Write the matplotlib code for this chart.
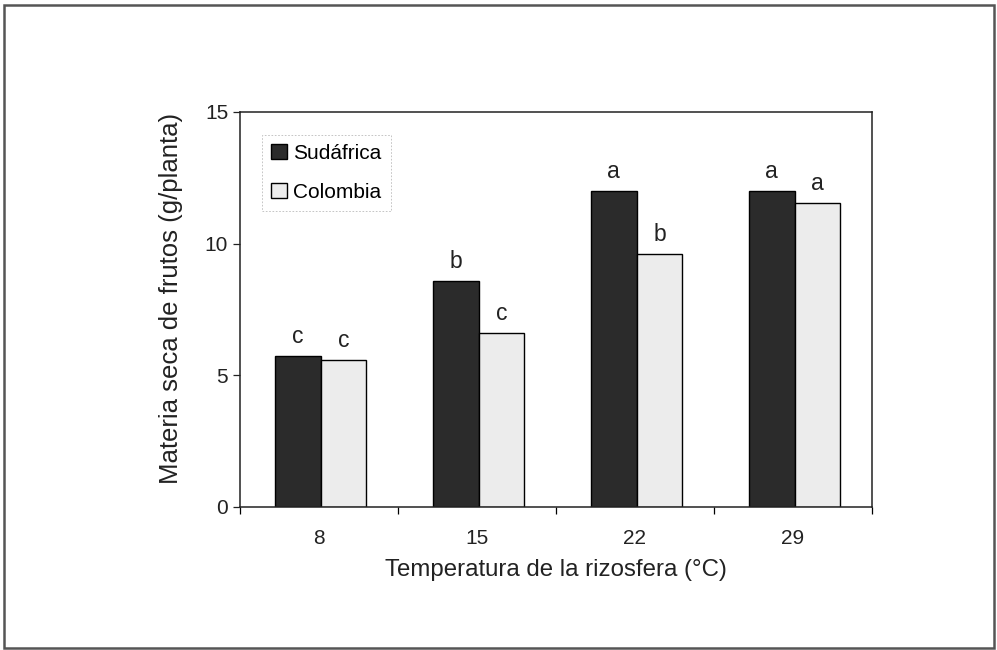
import matplotlib.pyplot as plt
import numpy as np
from matplotlib.patches import Rectangle

plt.rcParams["font.family"] = ["Liberation Sans", "DejaVu Sans"]

temps = ["8", "15", "22", "29"]
sudafrica = [5.75, 8.6, 12.0, 12.0]
colombia = [5.6, 6.6, 9.6, 11.55]
letras_sud = ["c", "b", "a", "a"]
letras_col = ["c", "c", "b", "a"]

fig = plt.figure(figsize=(9.97, 6.5), dpi=100)
# outer frame
fig.patches.append(Rectangle((0.004, 0.003), 0.993, 0.989, transform=fig.transFigure,
                             fill=False, edgecolor="#555555", linewidth=1.8))

ax = fig.add_axes([0.2407, 0.22, 0.6339, 0.6077])
x = np.arange(len(temps))
w = 0.29
ax.bar(x - w / 2 + 0.01, sudafrica, w, color="#2b2b2b", edgecolor="black", linewidth=1.0,
       label="Sudáfrica")
ax.bar(x + w / 2 + 0.01, colombia, w, color="#ececec", edgecolor="black", linewidth=1.0,
       label="Colombia")

for xi, v, t in zip(x, sudafrica, letras_sud):
    ax.text(xi - w / 2 + 0.01, v + 0.3, t, ha="center", va="bottom", fontsize=16.5, color="#222222")
for xi, v, t in zip(x, colombia, letras_col):
    ax.text(xi + w / 2 + 0.01, v + 0.3, t, ha="center", va="bottom", fontsize=16.5, color="#222222")

ax.set_xlim(-0.5, len(temps) - 0.5)
ax.set_ylim(0, 15)
ax.set_yticks([0, 5, 10, 15])
ax.set_xticks(x)
ax.set_xticklabels(temps)
ax.set_xticks(np.arange(len(temps) + 1) - 0.5, minor=True)
ax.tick_params(axis="x", which="major", length=0, labelsize=15, pad=16, colors="#222222")
ax.tick_params(axis="x", which="minor", length=5, direction="out", width=0.9)
ax.tick_params(axis="y", length=5, direction="out", labelsize=15, width=0.9, colors="#222222")
for s in ax.spines.values():
    s.set_linewidth(1.1)
    s.set_color("#222222")

ax.set_xlabel("Temperatura de la rizosfera (°C)", fontsize=17.3, color="#222222", labelpad=8)
ax.set_ylabel("Materia seca de frutos (g/planta)", fontsize=18.5, color="#222222")
ax.yaxis.set_label_coords(-0.09, 0.527)

leg = ax.legend(loc="upper left", bbox_to_anchor=(0.035, 0.943), borderaxespad=0,
                fontsize=15, frameon=True, fancybox=False, handlelength=0.75,
                handleheight=0.75, handletextpad=0.3, labelspacing=0.95, borderpad=0.45)
leg.get_frame().set_edgecolor("#aaaaaa")
leg.get_frame().set_linestyle((0, (2, 2)))
leg.get_frame().set_linewidth(0.6)

fig.savefig("out.png", dpi=100)
